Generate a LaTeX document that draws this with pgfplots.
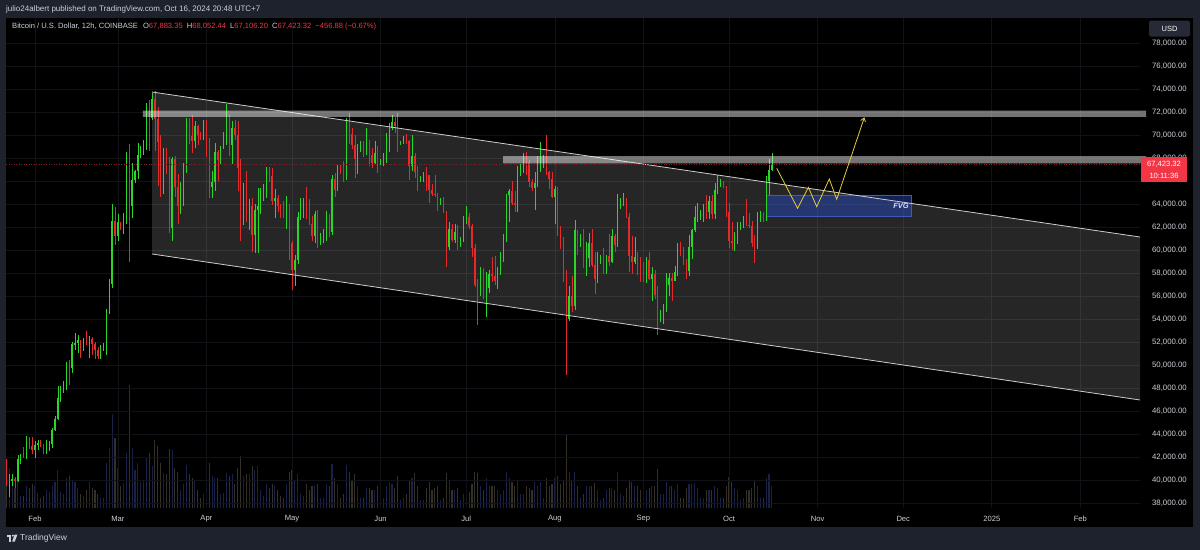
\documentclass[border=0pt]{standalone}
\usepackage{pgfplots}
\pgfplotsset{compat=1.18}
\usepackage{pgfplotstable}
\usepackage{fontspec}
\setmainfont{Liberation Sans}
\usetikzlibrary{arrows.meta}

\definecolor{outerbg}{RGB}{30,34,45}
\definecolor{gridc}{RGB}{17,18,23}
\definecolor{txt}{RGB}{205,208,216}
\definecolor{cup}{RGB}{40,215,40}
\definecolor{cdn}{RGB}{228,42,42}
\definecolor{volup}{RGB}{26,33,72}
\definecolor{voldn}{RGB}{52,48,40}
\definecolor{tagred}{RGB}{242,54,69}
\definecolor{yel}{RGB}{228,205,60}
\definecolor{fvg}{RGB}{40,75,200}
\definecolor{fvgline}{RGB}{60,90,190}
\definecolor{usdbox}{RGB}{38,42,54}
\definecolor{chline}{RGB}{205,205,205}

\pgfplotstableread{
d o h l c v
21 41600 41800 39450 39550 30
22 39550 40500 38550 39900 40
23 39900 40550 39500 40100 25
24 40100 40300 39300 39950 20
25 39950 42200 39850 41820 28
26 41820 42250 41400 42120 12
27 42120 42850 41900 42030 12
28 42030 43850 41850 43300 22
29 43300 43750 42700 42950 20
30 42950 43700 42300 42580 24
31 42580 43400 41900 43080 22
32 43080 43450 42600 43200 15
33 43200 43500 42900 43000 10
34 43000 43150 42300 42580 12
35 42580 43500 42280 42660 18
36 42660 43400 42550 43090 16
37 43090 44500 42800 44340 22
38 44340 45600 44300 45290 26
39 45290 48200 45250 47130 38
40 47130 48150 46800 47750 16
41 47750 48600 47600 48300 14
42 48300 50300 47800 49950 30
43 49950 50400 48300 49700 32
44 49700 52000 49300 51800 28
45 51800 52800 51300 51900 26
46 51900 52600 51050 52150 20
47 52150 52200 50600 51650 14
48 51650 52350 51200 52140 12
49 52140 52950 51700 51780 18
50 51780 52500 50650 52260 26
51 52260 52400 50900 51850 20
52 51850 51980 50550 51300 18
53 51300 51550 50500 50740 14
54 50740 51700 50550 51570 10
55 51570 51950 51250 51730 10
56 51730 54900 50900 54500 45
57 54500 57500 54400 57080 60
58 57080 64000 56700 62500 94
59 62500 63700 60400 61200 70
60 61200 63100 60800 62400 40
61 62400 62450 61700 62040 22
62 62040 63250 61400 63130 25
63 63130 68500 62300 68330 55
64 68330 69200 59000 63800 123
65 63800 67600 62800 66100 60
66 66100 67000 65800 66900 38
67 66900 69300 66200 68300 45
68 68300 69000 68000 68500 26
69 68500 69600 68300 69000 28
70 69000 72800 68700 72100 50
71 72100 73000 68600 71480 55
72 71480 73650 71300 73100 42
73 73100 73800 68600 71400 68
74 71400 72400 65600 69400 62
75 69400 70000 64600 65300 45
76 65300 68900 64900 68400 35
77 68400 68900 66600 67600 34
78 67600 68100 61500 61900 59
79 61900 68100 60800 67900 58
80 67900 68200 64600 65500 40
81 65500 66600 62300 63800 36
82 63800 65900 63100 64100 18
83 64100 67600 63800 67200 24
84 67200 71500 66700 70000 43
85 70000 71500 69200 69900 34
86 69900 71700 68400 69500 30
87 69500 71200 68900 70800 28
88 70800 70900 69100 70000 18
89 70000 70300 69600 69700 10
90 69700 71300 69600 71300 14
91 71300 71300 68100 69700 30
92 69700 69700 64500 65500 45
93 65500 66900 64500 65900 32
94 65900 69300 65100 68500 30
95 68500 68700 66000 67800 30
96 67800 69000 67500 68900 14
97 68900 70300 68800 69400 15
98 69400 72700 69100 71600 35
99 71600 71750 68200 69100 32
100 69100 71200 67500 70600 34
101 70600 71300 69600 70000 24
102 70000 71200 65100 67100 40
103 67100 67900 60800 63900 52
104 63900 65800 62200 65700 32
105 65700 66900 62400 63400 34
106 63400 64400 61700 63800 34
107 63800 64500 59800 61300 42
108 61300 64000 59700 63500 38
109 63500 65400 59700 63800 42
110 63800 65400 63100 64900 18
111 64900 65700 64300 64900 12
112 64900 67200 64500 66800 24
113 66800 67200 65900 66400 20
114 66400 67100 63900 64300 24
115 64300 65300 62800 64500 22
116 64500 64800 63300 63800 18
117 63800 64000 62800 63400 12
118 63400 64300 62800 63100 10
119 63100 64700 61800 63900 24
120 63900 64000 59100 60600 36
121 60600 60800 56500 58300 38
122 58300 59600 56900 59100 28
123 59100 63300 58800 62900 34
124 62900 64500 62600 63900 14
125 63900 64500 62800 64000 12
126 64000 65500 62700 63200 24
127 63200 64400 62200 62300 18
128 62300 63000 60800 61200 22
129 61200 63400 60600 63100 22
130 63100 63500 60200 60800 24
131 60800 61500 60400 60800 10
132 60800 61800 60600 61500 10
133 61500 63400 60800 62900 24
134 62900 63100 61100 61600 22
135 61600 66500 61300 66200 44
136 66200 66700 64600 65200 30
137 65200 67400 65100 67000 24
138 67000 67400 66600 66900 10
139 66900 67700 65900 66300 14
140 66300 71500 66100 71400 43
141 71400 71900 69200 70100 36
142 70100 70600 68800 69100 28
143 69100 70000 66300 67900 34
144 67900 69200 66600 68500 22
145 68500 69500 68500 69300 10
146 69300 69500 68100 68500 10
147 68500 70600 68300 69400 20
148 69400 69600 67300 68300 20
149 68300 68900 67100 67600 18
150 67600 69500 67500 68400 18
151 68400 69000 66700 67500 22
152 67500 67900 67400 67700 8
153 67700 68400 67300 67800 10
154 67800 70200 67600 68800 22
155 68800 71000 68500 70600 26
156 70600 71700 70400 71100 24
157 71100 71600 70200 70800 20
158 70800 71900 68500 69300 32
159 69300 69500 69100 69300 8
160 69300 69900 69200 69600 10
161 69600 70100 69200 69500 14
162 69500 69600 66100 67300 28
163 67300 70000 66900 68200 30
164 68200 68400 66300 66800 35
165 66800 67300 65100 66000 22
166 66000 66400 65900 66200 8
167 66200 66800 65900 66600 8
168 66600 67200 65100 66500 20
169 66500 66500 64100 65200 26
170 65200 65700 64700 64900 18
171 64900 66500 64600 64800 20
172 64800 65000 63400 64100 22
173 64100 64500 63900 64200 8
174 64200 64600 63200 63200 10
175 63200 63400 58500 60300 35
176 60300 62400 60000 61800 28
177 61800 62300 60700 60900 18
178 60900 62300 60600 61600 18
179 61600 62200 60000 60300 20
180 60300 61100 60300 60900 8
181 60900 63000 60700 62700 14
182 62700 63800 62300 62900 18
183 62900 63200 61800 62100 16
184 62100 62300 59400 60200 24
185 60200 60500 56800 57000 36
186 57000 57500 53500 56600 35
187 56600 58500 56000 58200 22
188 58200 58400 55700 55800 18
189 55800 58100 54200 56700 30
190 56700 58300 56300 57900 22
191 57900 59400 57200 57700 22
192 57700 59500 57000 57300 22
193 57300 58500 56600 57900 18
194 57900 59800 57800 59200 14
195 59200 61400 59000 60800 18
196 60800 64900 60700 64800 36
197 64800 65300 62400 65100 30
198 65100 66000 63900 64100 26
199 64100 65100 63300 63900 22
200 63900 67300 63300 66700 28
201 66700 67500 66400 67200 14
202 67200 68400 66700 68200 14
203 68200 68500 66500 67600 22
204 67600 67800 65500 65900 20
205 65900 66200 65100 65400 18
206 65400 66800 63500 65800 26
207 65800 68200 65500 67900 22
208 67900 69400 66800 68000 26
209 68000 68300 67100 68300 10
210 68300 70000 66500 66800 30
211 66800 66900 65300 66200 22
212 66200 66800 64500 64600 24
213 64600 65600 62300 65300 30
214 65300 65500 61200 61500 32
215 61500 62100 60100 60700 24
216 60700 61100 57200 58100 28
217 58100 58300 49100 54000 74
218 54000 56900 53800 56000 36
219 56000 57700 54600 55100 28
220 55100 62600 54800 61700 36
221 61700 61700 59600 60900 22
222 60900 61400 60300 60900 10
223 60900 61800 58400 58700 14
224 58700 60700 57700 59300 22
225 59300 61500 58500 60600 22
226 60600 61800 58500 58700 22
227 58700 59800 56200 57500 25
228 57500 59800 57100 58900 18
229 58900 59600 58800 59500 8
230 59500 60200 57900 58400 10
231 58400 59600 57900 59500 18
232 59500 61400 58600 59000 20
233 59000 61800 58900 61200 20
234 61200 61400 59800 60400 18
235 60400 64900 60300 64100 36
236 64100 64500 63600 64200 14
237 64200 65000 63800 64200 12
238 64200 64500 62800 62900 20
239 62900 63200 58100 59500 28
240 59500 61200 57900 59000 26
241 59000 61100 58800 59400 22
242 59400 59800 57800 59100 22
243 59100 59400 57200 58900 18
244 58900 59000 57200 57300 14
245 57300 59400 57100 59100 18
246 59100 59800 57400 57500 20
247 57500 58500 55600 57900 22
248 57900 58300 55700 56100 22
249 56100 56900 52600 53900 39
250 53900 54800 53700 54100 14
251 54100 55300 53600 54800 14
252 54800 58000 54600 57000 26
253 57000 58000 56000 57600 22
254 57600 58000 55600 57300 22
255 57300 58600 57300 58100 18
256 58100 60600 57700 60500 24
257 60500 60700 59500 60000 10
258 60000 60300 58700 59200 10
259 59200 59200 57500 58200 20
260 58200 61300 57700 60300 24
261 60300 61800 59200 61700 24
262 61700 63800 61600 62900 25
263 62900 64100 62400 63200 20
264 63200 63500 62600 63300 10
265 63300 64000 62400 63600 10
266 63600 64800 62700 63300 18
267 63300 64700 62700 64300 18
268 64300 64800 62700 63100 18
269 63100 65800 62700 65200 22
270 65200 66500 64900 65800 20
271 65800 66200 65500 65900 10
272 65900 66000 65400 65600 10
273 65600 65600 62900 63300 22
274 63300 64100 60200 60800 31
275 60800 62400 60000 60600 26
276 60600 61600 59900 60700 20
277 60700 62400 60500 62100 18
278 62100 62400 61700 62100 8
279 62100 63000 61900 62800 10
280 62800 64400 62100 62200 18
281 62200 63200 61900 62100 18
282 62100 62500 60300 60600 20
283 60600 61300 58900 60300 28
284 60300 63300 60100 62500 22
285 62500 63400 62400 63200 10
286 63200 63300 62400 62800 10
287 62800 66400 62500 66000 30
288 66000 67900 64800 67000 34
289 67000 68400 66900 67400 22
}\btc

\pgfplotsset{candle/.style n args={2}{draw=none, mark=none, forget plot,
  error bars/.cd, y dir=both, y explicit, error mark=none,
  error bar style={line width=#1, draw=#2, solid}, /pgfplots/.cd}}

\begin{document}
\begin{tikzpicture}
\useasboundingbox (0,0) rectangle (1200bp,-550bp);
\fill[outerbg] (0,0) rectangle (1200bp,-550bp);
\fill[black] (6bp,-18bp) rectangle (1193bp,-527bp);

% volume
\begin{axis}[at={(6bp,-508bp)}, anchor=south west, width=1134bp, height=490bp, scale only axis,
  xmin=20.85, xmax=417.9, ymin=0, ymax=490, hide axis]
\addplot[ycomb, draw=volup, line width=1.1bp, mark=none,
  restrict expr to domain={\thisrow{c}-\thisrow{o}}{0:1000000}] table[x=d,y=v]{\btc};
\addplot[ycomb, draw=voldn, line width=1.1bp, mark=none,
  restrict expr to domain={\thisrow{c}-\thisrow{o}}{-1000000:-0.5}] table[x=d,y=v]{\btc};
\end{axis}

% price
\begin{axis}[at={(6bp,-508bp)}, anchor=south west, width=1134bp, height=490bp, scale only axis,
  xmin=20.85, xmax=417.9, ymin=37565, ymax=80174, clip=false,
  axis line style={draw=none}, major tick length=0pt, tick style={draw=none},
  xtick={31,60,91,121,152,182,213,244,274,305,335,366,397},
  xticklabels={Feb,Mar,Apr,May,Jun,Jul,Aug,Sep,Oct,Nov,Dec,2025,Feb},
  ytick={38000,40000,42000,44000,46000,48000,50000,52000,54000,56000,58000,60000,62000,64000,68000,70000,72000,74000,76000,78000},
  extra y ticks={66000}, extra y tick labels={},
  extra y tick style={grid=major},
  yticklabel pos=right,
  grid=major, grid style={draw=gridc, line width=0.6bp},
  scaled y ticks=false,
  /pgf/number format/assume math mode=true,
  yticklabel style={/pgf/number format/fixed, /pgf/number format/fixed zerofill,
     /pgf/number format/precision=2, /pgf/number format/1000 sep={,},
     anchor=east, xshift=47bp, inner sep=0pt, font=\fontsize{7.8bp}{9bp}\selectfont, text=txt},
  xticklabel style={anchor=center, yshift=-11bp, inner sep=0pt, font=\fontsize{7.6bp}{9bp}\selectfont, text=txt},
]
% channel fill
\addplot[fill=white, fill opacity=0.15, draw=none] coordinates {(72,73739) (417.9,61130) (417.9,46957) (72,59652) (72,73739)};
% FVG
\addplot[fill=fvg, fill opacity=0.45, draw=fvgline, line width=0.6bp] coordinates {(287.2,62896) (337.7,62896) (337.7,64783) (287.2,64783) (287.2,62896)};
% wicks
\addplot[restrict expr to domain={\thisrow{c}-\thisrow{o}}{0:1000000}, candle={0.5bp}{cup}]
  table[x=d, y expr={(\thisrow{h}+\thisrow{l})/2}, y error expr={(\thisrow{h}-\thisrow{l})/2}]{\btc};
\addplot[restrict expr to domain={\thisrow{c}-\thisrow{o}}{-1000000:-0.5}, candle={0.5bp}{cdn}]
  table[x=d, y expr={(\thisrow{h}+\thisrow{l})/2}, y error expr={(\thisrow{h}-\thisrow{l})/2}]{\btc};
% bodies
\addplot[restrict expr to domain={\thisrow{c}-\thisrow{o}}{0:1000000}, candle={1.3bp}{cup}]
  table[x=d, y expr={(\thisrow{o}+\thisrow{c})/2}, y error expr={max(abs(\thisrow{c}-\thisrow{o})/2,45)}]{\btc};
\addplot[restrict expr to domain={\thisrow{c}-\thisrow{o}}{-1000000:-0.5}, candle={1.3bp}{cdn}]
  table[x=d, y expr={(\thisrow{o}+\thisrow{c})/2}, y error expr={max(abs(\thisrow{c}-\thisrow{o})/2,45)}]{\btc};
% channel lines
\addplot[draw=chline, line width=0.8bp] coordinates {(72,73739) (417.9,61130)};
\addplot[draw=chline, line width=0.8bp] coordinates {(72,59652) (417.9,46957)};
% bands
\addplot[fill=white, fill opacity=0.45, draw=none] coordinates {(68.8,71570) (420,71570) (420,72130) (68.8,72130) (68.8,71570)};
\addplot[fill=white, fill opacity=0.45, draw=none] coordinates {(194.9,67540) (420,67540) (420,68170) (194.9,68170) (194.9,67540)};
% current price line
\addplot[draw=tagred!55!black, dash pattern=on 1bp off 1.5bp, line width=0.5bp] coordinates {(20.85,67423.32) (417.9,67423.32)};
% projection
\addplot[draw=yel, line width=0.8bp, -{Straight Barb[length=3.5bp, width=5bp]}] coordinates {(290.7,67104) (298.0,63626) (301.8,65452) (304.7,63765) (309.1,66174) (311.7,64409) (321.4,71539)};
\node[anchor=east, inner sep=0pt, font=\fontsize{7.5bp}{9bp}\selectfont\bfseries\itshape, text=white!85!blue] at (axis cs:337,63850) {FVG};
\end{axis}

% header
\node[anchor=west, inner sep=0pt, font=\fontsize{8bp}{9.6bp}\selectfont, text=txt] at (6bp,-9.5bp)
  {julio24albert published on TradingView.com, Oct 16, 2024 20:48 UTC+7};
\node[anchor=west, inner sep=0pt, font=\fontsize{7.6bp}{9bp}\selectfont, text=txt] at (12bp,-27bp)
  {Bitcoin / U.S. Dollar, 12h, COINBASE\hspace{5bp}O\textcolor{tagred}{67,883.35}\hspace{4bp}H\textcolor{tagred}{68,052.44}\hspace{4bp}L\textcolor{tagred}{67,106.20}\hspace{4bp}C\textcolor{tagred}{67,423.32}\hspace{4bp}\textcolor{tagred}{−456.88 (−0.67\%)}};
% USD box
\fill[usdbox, rounded corners=2bp] (1149bp,-20.5bp) rectangle (1190bp,-36.5bp);
\node[inner sep=0pt, font=\fontsize{7.5bp}{9bp}\selectfont, text=white] at (1169.5bp,-28.5bp) {USD};
% price tag
\fill[tagred] (1141bp,-157bp) rectangle (1187bp,-182bp);
\node[inner sep=0pt, font=\fontsize{7.6bp}{9bp}\selectfont, text=white] at (1164bp,-164bp) {67,423.32};
\node[inner sep=0pt, font=\fontsize{7.6bp}{9bp}\selectfont, text=white] at (1164bp,-175.5bp) {10:11:36};
% footer
\fill[txt] (7bp,-534.5bp) rectangle (11.2bp,-536.6bp);
\fill[txt] (9.2bp,-536.6bp) rectangle (11.2bp,-541.5bp);
\fill[txt] (12.9bp,-535.6bp) circle (1.1bp);
\fill[txt] (14.6bp,-534.5bp) -- (17.4bp,-534.5bp) -- (14.8bp,-541.5bp) -- (12.2bp,-541.5bp) -- cycle;
\node[anchor=west, inner sep=0pt, font=\fontsize{8.5bp}{10bp}\selectfont, text=txt] at (20bp,-538bp) {TradingView};
\end{tikzpicture}
\end{document}
